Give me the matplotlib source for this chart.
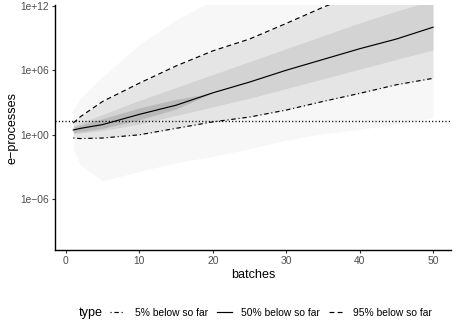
import numpy as np
import matplotlib
matplotlib.use('Agg')
import matplotlib.pyplot as plt
from matplotlib.lines import Line2D

plt.rcParams['font.family'] = ['Liberation Sans', 'DejaVu Sans']
plt.rcParams['lines.scale_dashes'] = False

batches = [1, 2, 5, 10, 15, 20, 25, 30, 35, 40, 45, 50]

# log10 of the e-process quantiles ("x% below so far")
q05 = [-0.3, -0.35, -0.3, 0.0, 0.6, 1.2, 1.65, 2.3, 3.1, 3.85, 4.65, 5.25]
q50 = [0.45, 0.6, 0.95, 1.9, 2.75, 3.9, 4.9, 6.0, 7.0, 8.0, 8.9, 10.0]
q95 = [1.1, 1.7, 3.1, 4.8, 6.4, 7.8, 8.9, 10.35, 11.85, 13.2, 14.5, 15.8]

# rough extent of the faint individual trajectories (log10)
env_lo = [-1.4, -2.8, -4.3, -3.4, -2.6, -2.0, -1.3, -0.5, 0.1, 0.5, 1.0, 1.6]
env_hi = [2.3, 3.4, 5.4, 8.4, 10.7, 12.5, 13.5, 14.0, 14.5, 15.0, 15.5, 16.0]
# darker core of the trajectories (log10)
core_lo = [0.1, 0.15, 0.4, 1.0, 1.8, 2.6, 3.4, 4.3, 5.2, 6.1, 7.0, 7.9]
core_hi = [0.8, 1.1, 1.9, 3.2, 4.4, 5.6, 6.8, 8.0, 9.2, 10.4, 11.5, 12.5]
# densest part near the start, where the paths are still bunched
dense_lo = [0.2, 0.3, 0.6, 1.4, 2.4, 3.9]
dense_hi = [0.7, 0.9, 1.5, 2.5, 3.3, 3.9]

threshold = 20

W, H = 458, 333
fig = plt.figure(figsize=(W / 100, H / 100), dpi=100)
ax = fig.add_axes([55.3 / W, (H - 250) / H, (451 - 55.3) / W, (250 - 5.5) / H])

p = lambda v: 10 ** np.array(v, dtype=float)

ax.fill_between(batches, p(env_lo), p(env_hi), color='black', alpha=0.03, lw=0)
ax.fill_between(batches, p(q05), p(q95), color='black', alpha=0.07, lw=0)
ax.fill_between(batches, p(core_lo), p(core_hi), color='black', alpha=0.08, lw=0)
ax.fill_between(batches[:6], p(dense_lo), p(dense_hi), color='black', alpha=0.12, lw=0)

ax.axhline(threshold, color='black', lw=1.0, dashes=(0.8, 1.6))

lw = 0.85
ax.plot(batches, p(q05), color='black', lw=lw, dashes=(0.8, 2.0, 3.2, 2.0))
ax.plot(batches, p(q50), color='black', lw=lw)
ax.plot(batches, p(q95), color='black', lw=lw, dashes=(3.5, 2.4))

ax.set_yscale('log')
ax.set_ylim(10 ** -10.71, 10 ** 12.02)
ax.set_xlim(-1.45, 52.45)
ax.set_yticks([1e-6, 1e0, 1e6, 1e12])
ax.set_yticklabels(['1e\u221206', '1e+00', '1e+06', '1e+12'])
ax.minorticks_off()
ax.set_xticks([0, 10, 20, 30, 40, 50])

for s in ['top', 'right']:
    ax.spines[s].set_visible(False)
for s in ['left', 'bottom']:
    ax.spines[s].set_linewidth(1.0)
ax.tick_params(colors='#333333', labelcolor='#4d4d4d', labelsize=7.4, length=2.5, width=0.8, pad=2)

ax.set_xlabel('batches', fontsize=9.1, labelpad=2)
ax.set_ylabel('e\u2212processes', fontsize=9.1, labelpad=1.5)

handles = [
    Line2D([], [], color='black', lw=lw, dashes=(0.8, 2.0, 3.2, 2.0)),
    Line2D([], [], color='black', lw=lw),
    Line2D([], [], color='black', lw=lw, dashes=(3.5, 2.4)),
]
labels = ['5% below so far', '50% below so far', '95% below so far']
fig.text(79 / W, 1 - 313 / H, 'type', fontsize=9.1, va='center', ha='left')
fig.legend(handles, labels, loc='center left', bbox_to_anchor=(110 / W, 1 - 313 / H),
           ncol=3, frameon=False, fontsize=7.4, handlelength=1.5, handletextpad=0.9,
           columnspacing=0.85, borderpad=0, borderaxespad=0)

fig.savefig('out.png', dpi=100)
